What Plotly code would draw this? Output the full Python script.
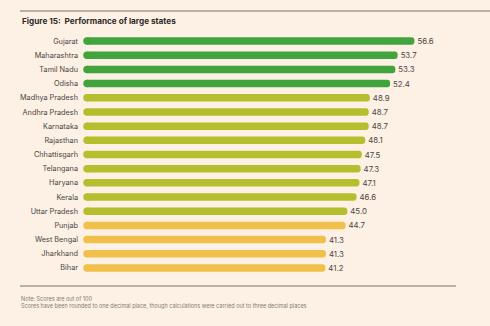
import plotly.graph_objects as go

states = ["Gujarat", "Maharashtra", "Tamil Nadu", "Odisha", "Madhya Pradesh",
          "Andhra Pradesh", "Karnataka", "Rajasthan", "Chhattisgarh", "Telangana",
          "Haryana", "Kerala", "Uttar Pradesh", "Punjab", "West Bengal",
          "Jharkhand", "Bihar"]
scores = [56.6, 53.7, 53.3, 52.4, 48.9, 48.7, 48.7, 48.1, 47.5, 47.3,
          47.1, 46.6, 45.0, 44.7, 41.3, 41.3, 41.2]
groups = ["top"] * 4 + ["mid"] * 9 + ["low"] * 4

palette = {"top": "#42a43c", "mid": "#b5bf2e", "low": "#f0c04a"}
colors = [palette[g] for g in groups]

W, H = 490, 326
bg = "#fdf0e4"
txt = "#3d3a38"
font_family = "Inter, Lato, sans-serif"

L, R, T, B = 87, 27, 34, 51
PW, PH = W - L - R, H - T - B


def px(x):
    return (x - L) / PW


def py(y):
    return (H - B - y) / PH


fig = go.Figure()
fig.add_trace(go.Bar(
    x=scores, y=states, orientation="h",
    marker=dict(color=colors, line=dict(width=0)),
    text=[f"{v:.1f}" for v in scores], textposition="outside",
    textfont=dict(size=7.8, color="#4a4643", family=font_family),
    cliponaxis=False, constraintext="none", hoverinfo="skip",
))
# rounded left caps
fig.add_trace(go.Scatter(
    x=[0] * len(states), y=states, mode="markers",
    marker=dict(symbol="circle", size=7.5, color=colors, line=dict(width=0)),
    cliponaxis=False, hoverinfo="skip",
))

fig.update_layout(
    width=W, height=H,
    margin=dict(l=L, r=R, t=T, b=B),
    paper_bgcolor=bg, plot_bgcolor=bg,
    showlegend=False,
    bargap=0.47,
    barcornerradius="50%",
    font=dict(family=font_family, color=txt, size=7.3),
    xaxis=dict(range=[0, 65], visible=False, fixedrange=True),
    yaxis=dict(
        range=[len(states) - 0.5, -0.5], autorange=False,
        showgrid=False, zeroline=False, showline=False,
        ticks="", ticklabelstandoff=8, tickfont=dict(size=7.3, color="#4a4643"),
    ),
    shapes=[
        dict(type="line", xref="paper", yref="paper",
             x0=px(20), x1=px(490), y0=py(11), y1=py(11),
             line=dict(color="#7a6e66", width=1)),
        dict(type="line", xref="paper", yref="paper",
             x0=px(20), x1=px(456), y0=py(286), y1=py(286),
             line=dict(color="#7a6e66", width=1)),
    ],
    annotations=[
        dict(text="<b>Figure 15:  Performance of large states</b>", xref="paper", yref="paper",
             x=px(20), y=py(21), xanchor="left", yanchor="middle",
             showarrow=False, font=dict(size=8.2, color="#2e2b29", family=font_family)),
        dict(text="Note: Scores are out of 100<br>Scores have been rounded to one decimal place, though calculations were carried out to three decimal places",
             xref="paper", yref="paper", x=px(19), y=py(293.5),
             xanchor="left", yanchor="top", align="left", showarrow=False,
             font=dict(size=5.5, color="#857c75", family=font_family)),
    ],
)

fig.write_html("out.html")
